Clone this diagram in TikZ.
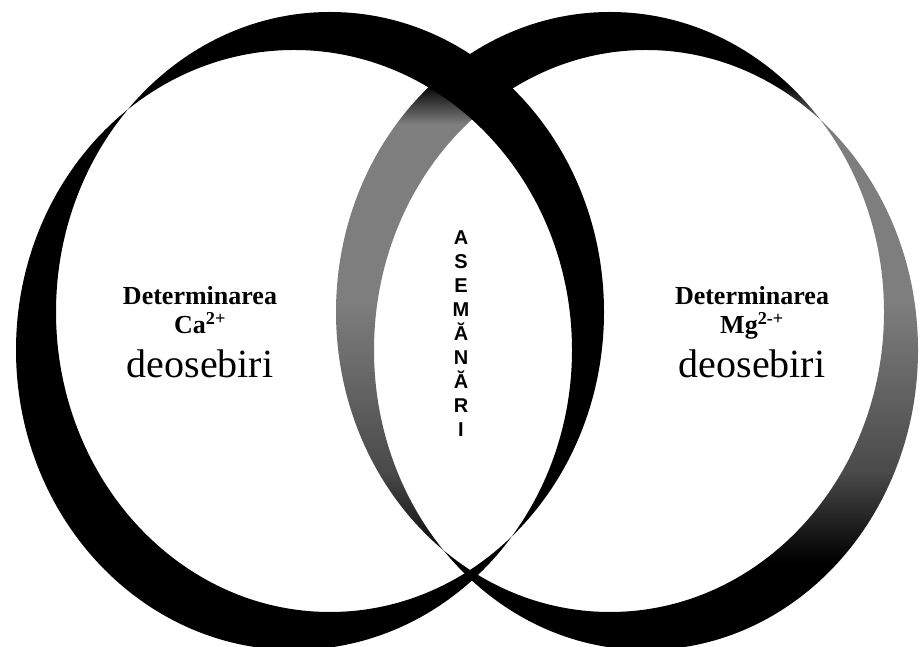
\documentclass[tikz,border=0pt]{standalone}
\usepackage{fontspec}
\setmainfont{Liberation Serif}
\setsansfont{Liberation Sans}
\usepackage{tikz}
\usepackage{xcolor}
\definecolor{ringblack}{HTML}{000000}
\definecolor{ringgray}{HTML}{7E7E7E}
\definecolor{ringdark}{HTML}{4A4A4A}
\pgfdeclareverticalshading{ringshade}{100bp}{color(0bp)=(ringblack); color(31.9bp)=(ringblack); color(39bp)=(ringdark); color(52.4bp)=(ringgray); color(66.2bp)=(ringgray); color(69.3bp)=(ringblack); color(100bp)=(ringblack)}

\begin{document}
\begin{tikzpicture}[x=1pt,y=1pt]
\useasboundingbox (0,0) rectangle (920,647);
\fill[white] (0,0) rectangle (920,647);
\shade[shading=ringshade,even odd rule] (610,335) ellipse [x radius=274, y radius=300] (646,297) ellipse [x radius=272, y radius=300];
\fill[ringblack,even odd rule] (330,335) ellipse [x radius=274, y radius=300] (294,297) ellipse [x radius=278, y radius=300];
\node[anchor=base,font=\fontsize{26}{28}\selectfont\bfseries] (detca) at (200,342) {Determinarea};
\node[anchor=base,font=\fontsize{26}{28}\selectfont\bfseries] (ca) at (200,313) {Ca\textsuperscript{2+}};
\node[anchor=base,font=\fontsize{40}{44}\selectfont] (deoca) at (200,269) {deosebiri};
\node[anchor=base,font=\fontsize{26}{28}\selectfont\bfseries] (detmg) at (752,342) {Determinarea};
\node[anchor=base,font=\fontsize{26}{28}\selectfont\bfseries] (mg) at (752,313) {Mg\textsuperscript{2-+}};
\node[anchor=base,font=\fontsize{40}{44}\selectfont] (deomg) at (752,269) {deosebiri};
\foreach \ch [count=\k from 0] in {A,S,E,M,Ă,N,Ă,R,I}
  \node[anchor=base,font=\sffamily\bfseries\fontsize{20}{20}\selectfont] (as\k) at (461,402-24*\k) {\ch};
\end{tikzpicture}
\end{document}
